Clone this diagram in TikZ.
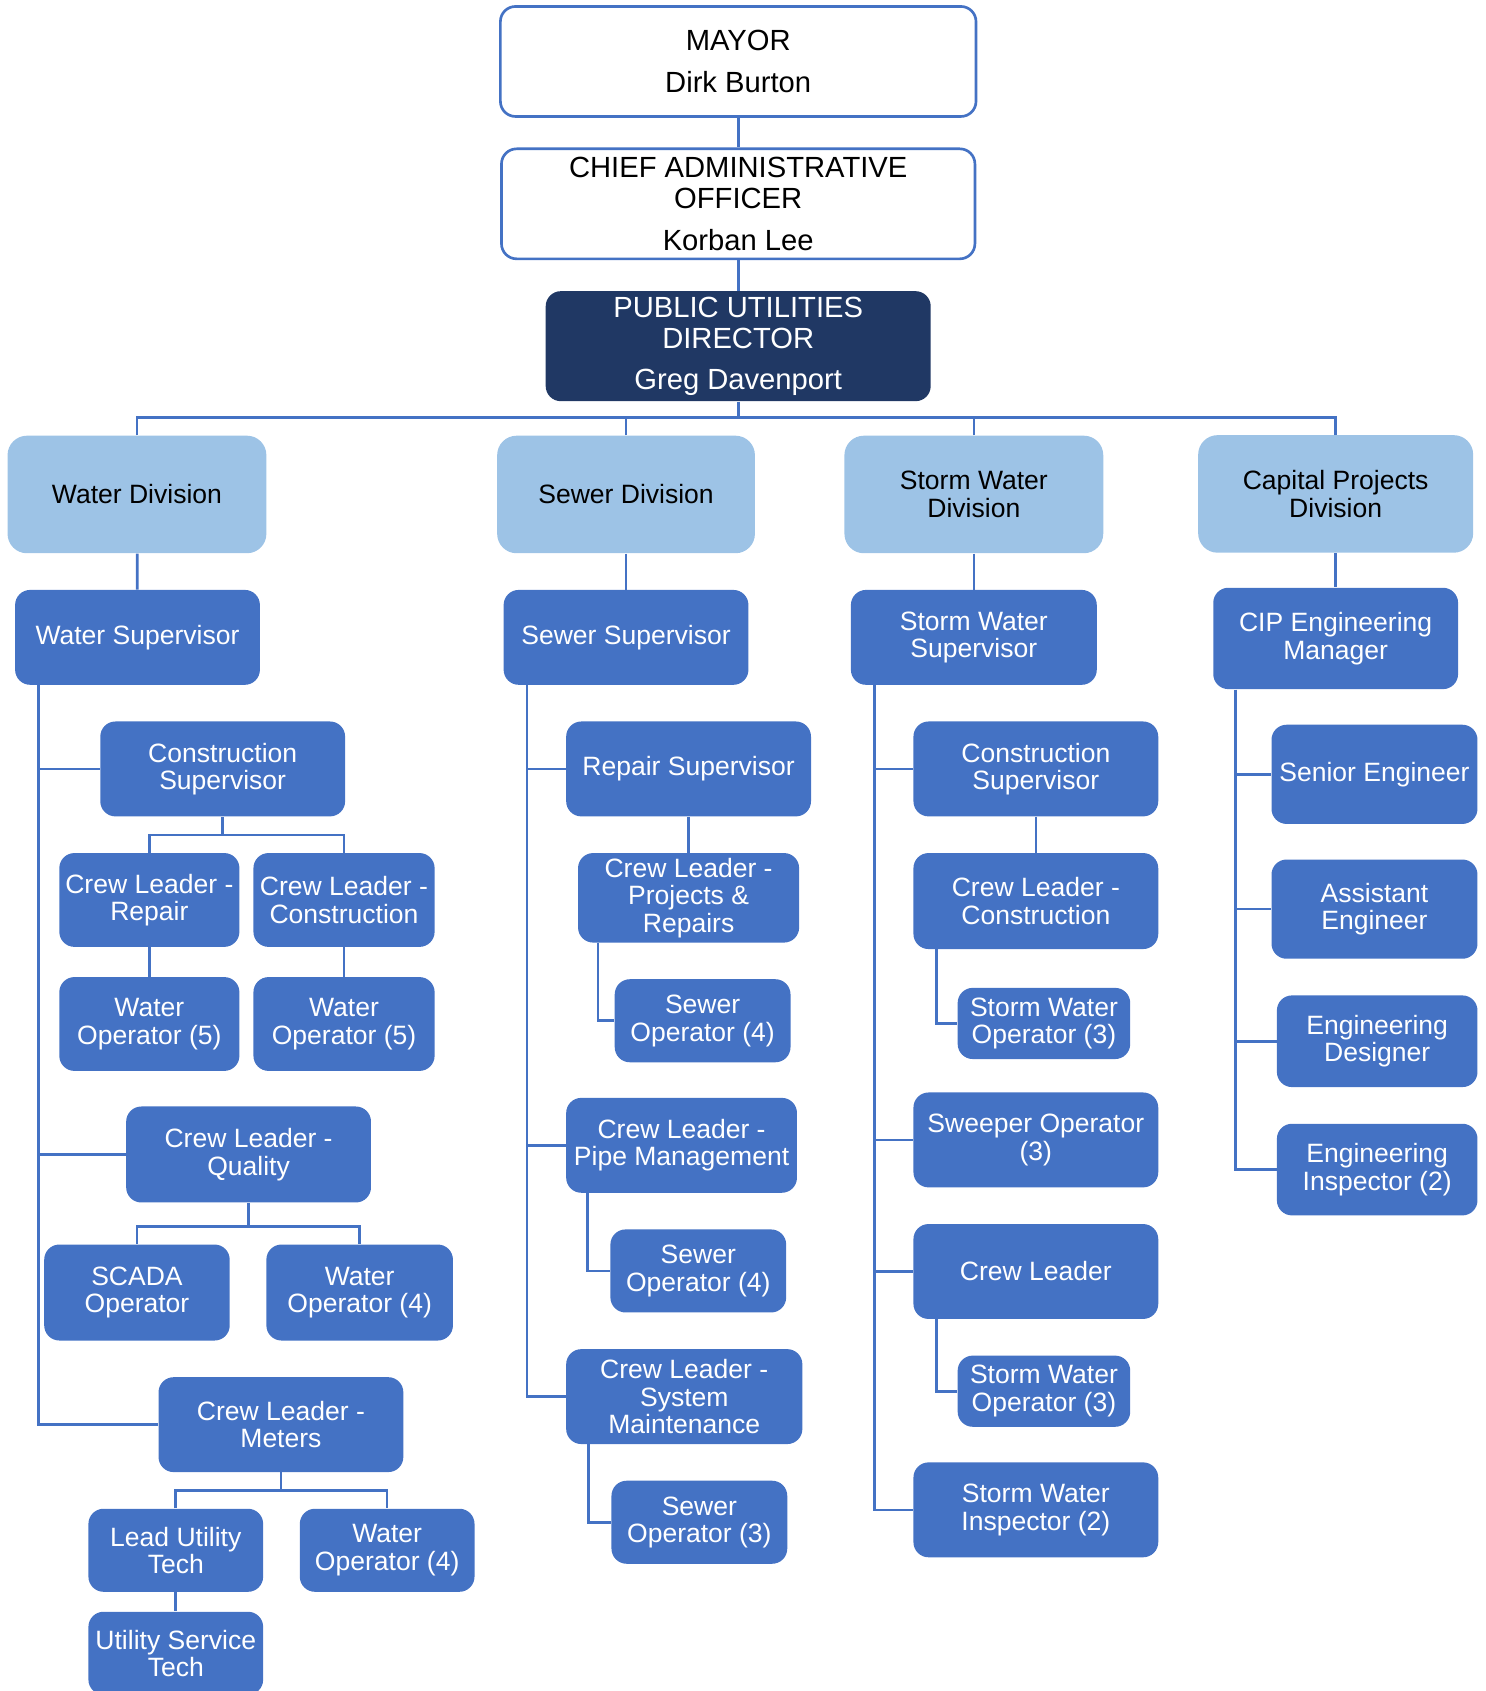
\documentclass[tikz,border=0pt]{standalone}
\usepackage{fontspec}
\setmainfont{Liberation Sans}

\definecolor{lineblue}{HTML}{4472C4}
\definecolor{staffblue}{HTML}{4472C4}
\definecolor{divblue}{HTML}{9DC3E6}
\definecolor{pudblue}{HTML}{203864}

\tikzset{
	box/.style 2 args={rounded corners=0.28cm, align=center, inner sep=1pt,
		minimum width=#1*0.02cm, minimum height=#2*0.02cm,
		font=\fontsize{14}{14.5}\selectfont},
	head/.style 2 args={box={#1}{#2}, draw=lineblue, line width=1.4pt, fill=white,
		font=\fontsize{15.4}{16.4}\selectfont},
	boss/.style 2 args={box={#1}{#2}, fill=pudblue, text=white,
		font=\fontsize{15.4}{16.4}\selectfont},
	div/.style 2 args={box={#1}{#2}, fill=divblue, rounded corners=0.36cm},
	staff/.style 2 args={box={#1}{#2}, fill=staffblue, text=white},
	link/.style={draw=lineblue, line width=1.4pt}
}

\begin{document}
\begin{tikzpicture}[x=0.02cm, y=-0.02cm]
	\useasboundingbox (0,0) rectangle (1377,1568);

	% top of the chart
	\node[head={441}{102}] (mayor) at (684.5,57) {MAYOR\\[6pt]Dirk Burton};
	\node[head={439}{102}] (cao) at (684.5,189) {CHIEF ADMINISTRATIVE\\OFFICER\\[5.5pt]Korban Lee};
	\node[boss={357}{102}] (pud) at (684.5,321) {PUBLIC UTILITIES\\DIRECTOR\\[5.5pt]Greg Davenport};
	\coordinate (bus) at (684.5,387);

	% divisions
	\node[div={240}{109}] (wdiv) at (127,458.5) {Water Division};
	\node[div={239}{109}] (sdiv) at (580.5,458.5) {Sewer Division};
	\node[div={240}{109}] (swdiv) at (903,458.5) {Storm Water\\Division};
	\node[div={255}{109}] (cdiv) at (1238.5,458) {Capital Projects\\Division};

	\node[staff={227}{88}] (wsup) at (127.5,591) {Water Supervisor};
	\node[staff={227}{88}] (ssup) at (580.5,591) {Sewer Supervisor};
	\node[staff={228}{88}] (swsup) at (903,591) {Storm Water\\Supervisor};
	\node[staff={227}{94}] (cipm) at (1238.5,592) {CIP Engineering\\Manager};

	% water
	\node[staff={227}{88}] (wcons) at (206.5,713) {Construction\\Supervisor};
	\node[staff={167}{87}] (clrep) at (138.5,834.5) {Crew Leader -\\Repair};
	\node[staff={168}{87}] (clcon) at (319,834.5) {Crew Leader -\\Construction};
	\node[staff={167}{87}] (wopa) at (138.5,949.5) {Water\\Operator (5)};
	\node[staff={168}{87}] (wopb) at (319,949.5) {Water\\Operator (5)};
	\node[staff={227}{89}] (clqual) at (230.5,1070.5) {Crew Leader -\\Quality};
	\node[staff={172}{89}] (scada) at (127,1198.5) {SCADA\\Operator};
	\node[staff={173}{89}] (wopc) at (333.5,1198.5) {Water\\Operator (4)};
	\node[staff={227}{88}] (clmet) at (260.5,1321) {Crew Leader -\\Meters};
	\node[staff={162}{77}] (lut) at (163,1437.5) {Lead Utility\\Tech};
	\node[staff={162}{77}] (wopd) at (359,1437.5) {Water\\Operator (4)};
	\node[staff={162}{77}] (ust) at (163,1533) {Utility Service\\Tech};

	% sewer
	\node[staff={227}{88}] (rsup) at (638.5,713) {Repair Supervisor};
	\node[staff={205}{83}] (clpr) at (638.5,832.5) {Crew Leader -\\Projects \&\\Repairs};
	\node[staff={163}{77}] (sopa) at (651.5,946.5) {Sewer\\Operator (4)};
	\node[staff={214}{88}] (clpipe) at (632,1062) {Crew Leader -\\Pipe Management};
	\node[staff={163}{77}] (sopb) at (647.5,1178.5) {Sewer\\Operator (4)};
	\node[staff={219}{88}] (clsys) at (634.5,1295) {Crew Leader -\\System\\Maintenance};
	\node[staff={163}{77}] (sopc) at (648.5,1411.5) {Sewer\\Operator (3)};

	% storm water
	\node[staff={227}{88}] (scons) at (960.5,713) {Construction\\Supervisor};
	\node[staff={227}{89}] (sclcon) at (960.5,835.5) {Crew Leader -\\Construction};
	\node[staff={160}{66}] (swopa) at (968,949) {Storm Water\\Operator (3)};
	\node[staff={227}{88}] (sweep) at (960.5,1057) {Sweeper Operator\\(3)};
	\node[staff={227}{88}] (crew) at (960.5,1179) {Crew Leader};
	\node[staff={160}{66}] (swopb) at (968,1290) {Storm Water\\Operator (3)};
	\node[staff={227}{88}] (swinsp) at (960.5,1400) {Storm Water\\Inspector (2)};

	% capital projects
	\node[staff={191}{92}] (seng) at (1274.5,718) {Senior Engineer};
	\node[staff={191}{92}] (aeng) at (1274.5,843) {Assistant\\Engineer};
	\node[staff={186}{85}] (edes) at (1277,965.5) {Engineering\\Designer};
	\node[staff={186}{85}] (einsp) at (1277,1084.5) {Engineering\\Inspector (2)};

	% links
	\draw[link] (mayor) -- (cao);
	\draw[link] (cao) -- (pud);
	\draw[link] (pud) -- (bus);
	\draw[link] (wdiv) |- (bus) -| (cdiv);
	\draw[link] (sdiv) -- (sdiv |- bus);
	\draw[link] (swdiv) -- (swdiv |- bus);

	\draw[link] (wdiv) -- (wsup);
	\draw[link] (sdiv) -- (ssup);
	\draw[link] (swdiv) -- (swsup);
	\draw[link] (cdiv) -- (cipm);

	\draw[link] ([xshift=0.44cm]wsup.south west) |- (wcons.west)
		([xshift=0.44cm]wsup.south west) |- (clqual.west)
		([xshift=0.44cm]wsup.south west) |- (clmet.west);
	\draw[link] (wcons.south) -- ([yshift=-0.34cm]wcons.south);
	\draw[link] (clrep.north) |- ([yshift=-0.34cm]wcons.south) -| (clcon.north);
	\draw[link] (clrep) -- (wopa);
	\draw[link] (clcon) -- (wopb);
	\draw[link] (clqual.south) -- ([yshift=-0.44cm]clqual.south);
	\draw[link] (scada.north) |- ([yshift=-0.44cm]clqual.south) -| (wopc.north);
	\draw[link] (clmet.south) -- ([yshift=-0.34cm]clmet.south);
	\draw[link] (lut.north) |- ([yshift=-0.34cm]clmet.south) -| (wopd.north);
	\draw[link] (lut) -- (ust);

	\draw[link] ([xshift=0.44cm]ssup.south west) |- (rsup.west)
		([xshift=0.44cm]ssup.south west) |- (clpipe.west)
		([xshift=0.44cm]ssup.south west) |- (clsys.west);
	\draw[link] (rsup) -- (clpr);
	\draw[link] ([xshift=0.38cm]clpr.south west) |- (sopa.west);
	\draw[link] ([xshift=0.4cm]clpipe.south west) |- (sopb.west);
	\draw[link] ([xshift=0.42cm]clsys.south west) |- (sopc.west);

	\draw[link] ([xshift=0.44cm]swsup.south west) |- (scons.west)
		([xshift=0.44cm]swsup.south west) |- (sweep.west)
		([xshift=0.44cm]swsup.south west) |- (crew.west)
		([xshift=0.44cm]swsup.south west) |- (swinsp.west);
	\draw[link] (scons) -- (sclcon);
	\draw[link] ([xshift=0.44cm]sclcon.south west) |- (swopa.west);
	\draw[link] ([xshift=0.44cm]crew.south west) |- (swopb.west);

	\draw[link] ([xshift=0.42cm]cipm.south west) |- (seng.west)
		([xshift=0.42cm]cipm.south west) |- (aeng.west)
		([xshift=0.42cm]cipm.south west) |- (edes.west)
		([xshift=0.42cm]cipm.south west) |- (einsp.west);
\end{tikzpicture}
\end{document}
